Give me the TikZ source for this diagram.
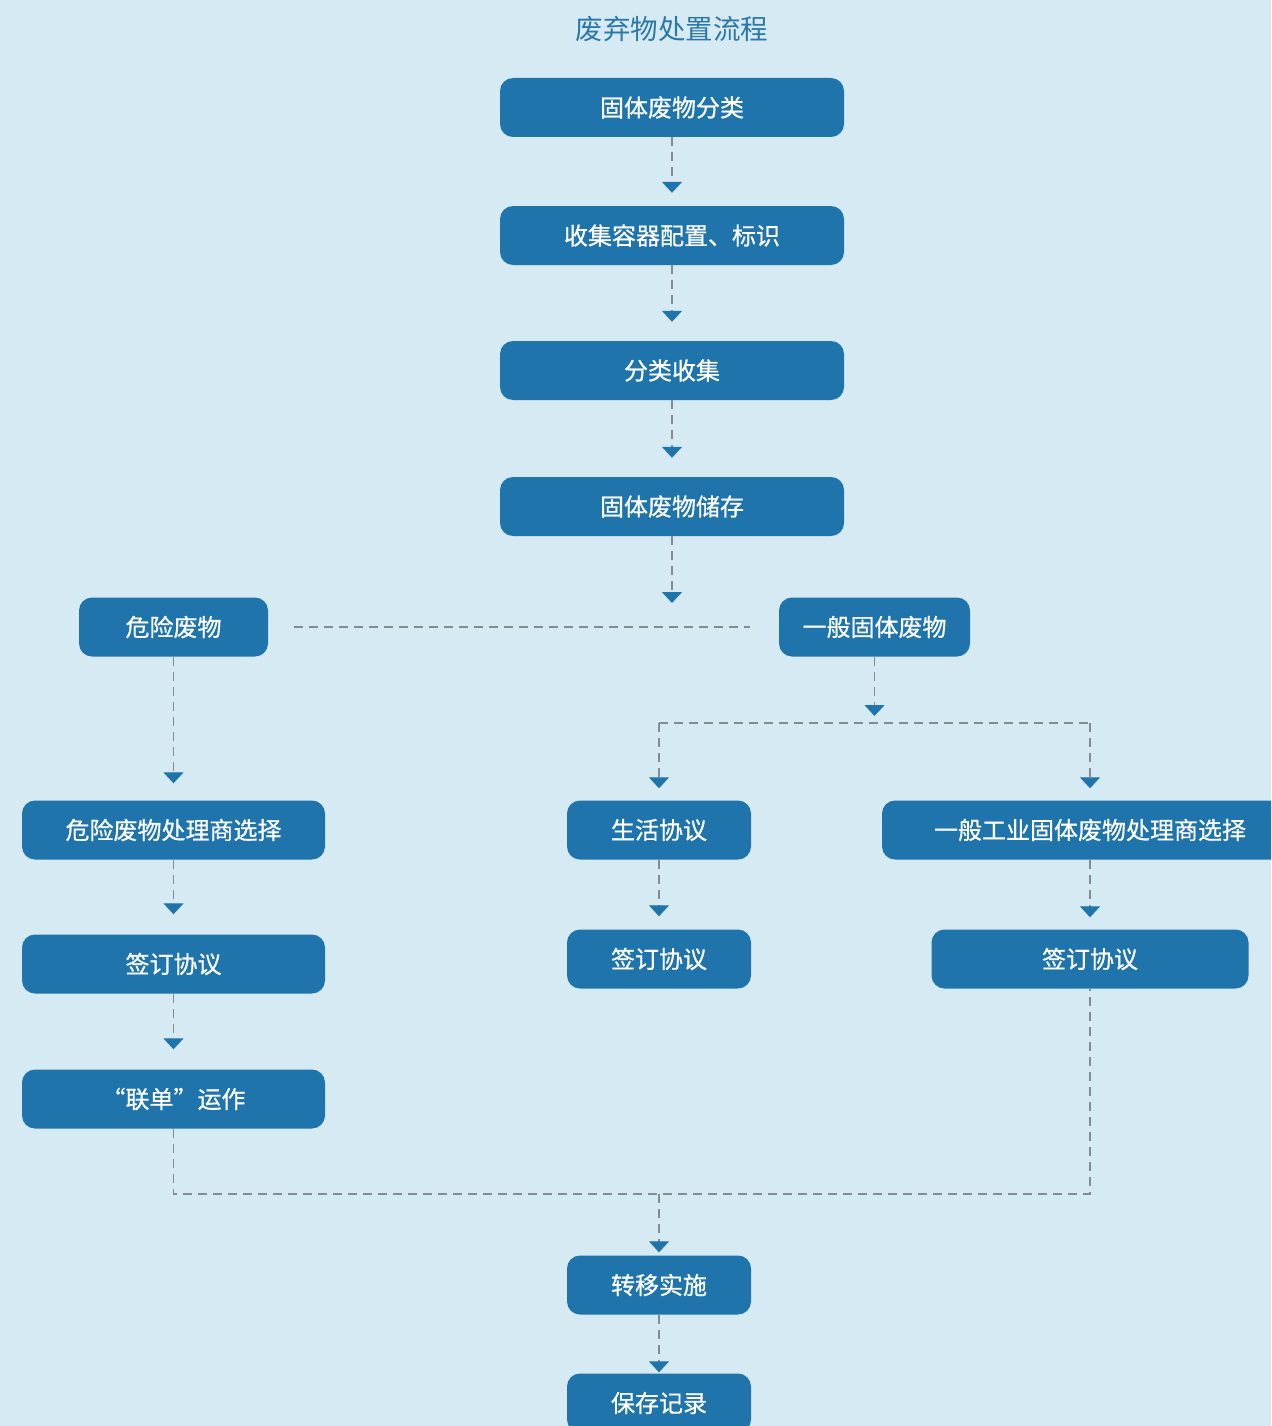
\documentclass[tikz,border=0pt]{standalone}
\usepackage{fontspec}
\setmainfont{Noto Sans CJK SC}
\newfontfamily\boxfont[FakeBold=0.6]{Noto Sans CJK SC}
\usetikzlibrary{arrows.meta}
\definecolor{bgblue}{HTML}{D6EAF3}
\definecolor{boxblue}{HTML}{1F75AB}
\definecolor{titleblue}{HTML}{2B78A8}
\definecolor{lgray}{HTML}{858B90}
\begin{document}
\begin{tikzpicture}[x=1pt,y=-1pt,
  box/.style={rectangle, rounded corners=13pt, fill=boxblue, text=white,
    font=\boxfont\fontsize{24}{26}\selectfont, minimum height=59pt, inner sep=0pt},
  dline/.style={draw=lgray, line width=1.3pt, dash pattern=on 9pt off 6pt},
  conn/.style={dline, -{Triangle[width=20pt,length=11pt,color=boxblue]}}
]
\useasboundingbox (0,0) rectangle (1271,1426);
\fill[bgblue] (0,0) rectangle (1271,1426);
\clip (0,0) rectangle (1271,1426);

\node[text=titleblue, font=\fontsize{27.5}{30}\selectfont] (title) at (672,29) {废弃物处置流程};

\node[box, minimum width=344pt] (n1) at (672,107.5) {固体废物分类};
\node[box, minimum width=344pt] (n2) at (672,235.5) {收集容器配置、标识};
\node[box, minimum width=344pt] (n3) at (672,370.5) {分类收集};
\node[box, minimum width=344pt] (n4) at (672,506.5) {固体废物储存};

\node[box, minimum width=189pt] (hw) at (173.5,627) {危险废物};
\node[box, minimum width=191pt] (gw) at (874.5,627) {一般固体废物};

\node[box, minimum width=303pt] (hsel) at (173.5,830) {危险废物处理商选择};
\node[box, minimum width=184pt] (life) at (659,830) {生活协议};
\node[box, minimum width=416pt] (ind) at (1090,830) {一般工业固体废物处理商选择};

\node[box, minimum width=303pt] (hsign) at (173.5,964) {签订协议};
\node[box, minimum width=184pt] (msign) at (659,959) {签订协议};
\node[box, minimum width=317pt] (rsign) at (1090,959) {签订协议};

\node[box, minimum width=303pt] (lian) at (173.5,1099) {“联单”运作};

\node[box, minimum width=184pt] (trans) at (659,1285) {转移实施};
\node[box, minimum width=184pt] (keep) at (659,1403) {保存记录};

\coordinate (j1) at (672,603);
\coordinate (j2) at (874.5,716);
\coordinate (bl) at (659,723);
\coordinate (br) at (1090,723);
\coordinate (ml) at (173.5,1194);
\coordinate (mm) at (659,1194);
\coordinate (mr) at (1090,1194);

\draw[conn, shorten >=13pt] (n1) -- (n2);
\draw[conn, shorten >=19pt] (n2) -- (n3);
\draw[conn, shorten >=19pt] (n3) -- (n4);
\draw[conn] (n4) -- (j1);

\draw[dline, shorten <=26pt, shorten >=29pt] (hw) -- (gw);

\draw[conn] (gw) -- (j2);
\draw[dline] (bl) -- (br);
\draw[conn, shorten >=12pt] (bl) -- (life);
\draw[conn, shorten >=12pt] (br) -- (ind);

\draw[conn, shorten >=17pt] (hw) -- (hsel);
\draw[conn, shorten >=20pt] (hsel) -- (hsign);
\draw[conn, shorten >=20pt] (hsign) -- (lian);

\draw[conn, shorten >=13pt] (life) -- (msign);
\draw[conn, shorten >=12pt] (ind) -- (rsign);

\draw[dline] (lian) -- (ml) -- (mr) -- (rsign);
\draw[conn, shorten >=3pt] (mm) -- (trans);
\draw[conn, shorten >=1pt] (trans) -- (keep);
\end{tikzpicture}
\end{document}
